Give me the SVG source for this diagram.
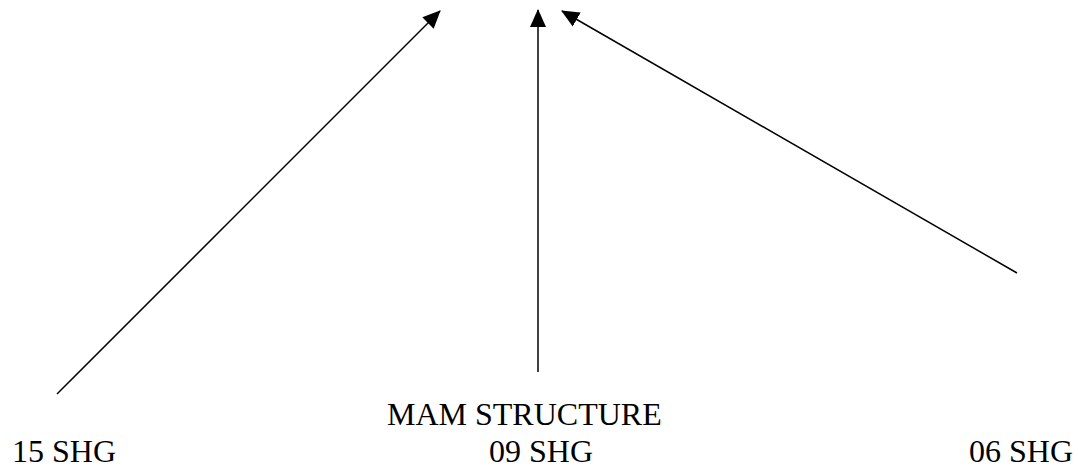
<svg xmlns="http://www.w3.org/2000/svg" width="1078" height="471" viewBox="0 0 1078 471">
<style>
.lbl{font-family:"Liberation Serif","Times New Roman",serif;font-size:32px;fill:#000}
.conn{stroke:#000;stroke-width:1.5;fill:none}
</style>
<defs>
<marker id="ah" markerUnits="userSpaceOnUse" markerWidth="18" markerHeight="18" viewBox="0 0 18 16" refX="17" refY="8" orient="auto">
<path d="M0,0 L18,8 L0,16 Z" fill="#000"/>
</marker>
</defs>
<rect width="1078" height="471" fill="#fff"/>
<g id="connectors">
<line class="conn" x1="57" y1="394" x2="440" y2="11" marker-end="url(#ah)"/>
<line class="conn" x1="538" y1="372" x2="538" y2="10" marker-end="url(#ah)"/>
<line class="conn" x1="1017" y1="273" x2="562" y2="11" marker-end="url(#ah)"/>
</g>
<g id="node-mam"><text class="lbl" x="387" y="425">MAM STRUCTURE</text></g>
<g id="node-15"><text class="lbl" x="12" y="462">15 SHG</text></g>
<g id="node-09"><text class="lbl" x="489" y="462">09 SHG</text></g>
<g id="node-06"><text class="lbl" x="969" y="462">06 SHG</text></g>
</svg>
